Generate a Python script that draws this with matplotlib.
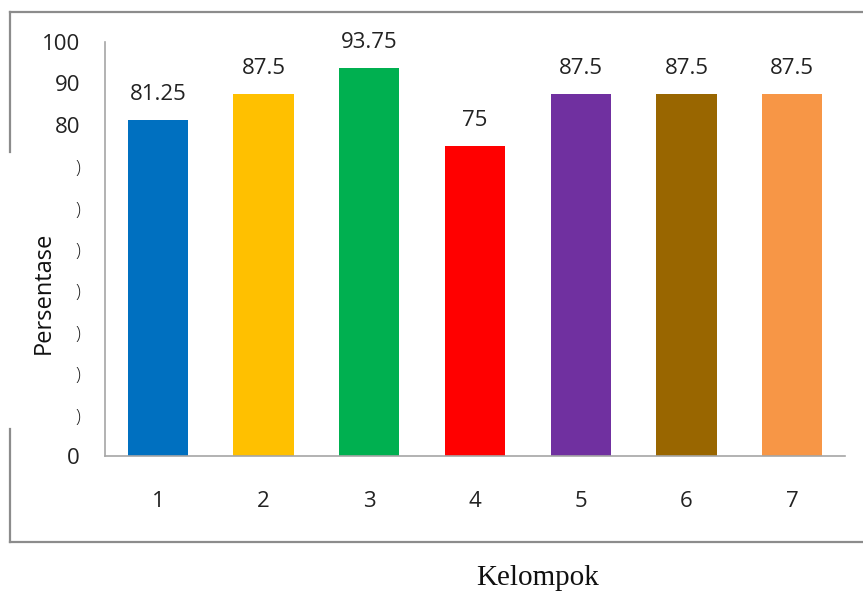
import matplotlib.pyplot as plt
from matplotlib.lines import Line2D

plt.rcParams["font.family"] = ["Open Sans", "DejaVu Sans"]

# data
kelompok = ["1", "2", "3", "4", "5", "6", "7"]
persentase = [81.25, 87.5, 93.75, 75, 87.5, 87.5, 87.5]
warna = ["#0070C0", "#FFC000", "#00B050", "#FF0000", "#7030A0", "#996600", "#F79646"]
y_ticks = [0, 10, 20, 30, 40, 50, 60, 70, 80, 90, 100]
y_labels = ["0", ")", ")", ")", ")", ")", ")", ")", "80", "90", "100"]

W, H = 863, 593
fig = plt.figure(figsize=(W / 100, H / 100), dpi=100)
ax = fig.add_axes([105 / W, 1 - 456 / H, (845 - 105) / W, (456 - 42) / H])

x = range(1, len(kelompok) + 1)
ax.bar(x, persentase, width=0.57, color=warna)
for xi, v in zip(x, persentase):
    ax.text(xi, v + 3.6, f"{v:g}", ha="center", va="bottom", fontsize=16, color="#222222")

ax.set_xlim(0.5, 7.5)
ax.set_ylim(0, 100)
ax.set_xticks(list(x))
ax.set_xticklabels(kelompok, fontsize=16, color="#222222")
ax.set_yticks(y_ticks)
ax.set_yticklabels(y_labels, fontsize=16, color="#222222")
for lbl in ax.get_yticklabels():
    if lbl.get_text() == ")":
        lbl.set_fontsize(13)
        lbl.set_fontweight("light")
ax.tick_params(axis="x", length=0, pad=25)
ax.tick_params(axis="y", length=0, pad=18)

for s in ["top", "right"]:
    ax.spines[s].set_visible(False)
for s in ["left", "bottom"]:
    ax.spines[s].set_color("#a6a6a6")
    ax.spines[s].set_linewidth(1.2)

# judul sumbu
fig.text(44 / W, 1 - 293 / H, "Persentase", rotation=90, ha="center", va="center",
         fontsize=17, color="#111111")
fig.text(538 / W, 1 - 578 / H, "Kelompok", ha="center", va="center",
         fontsize=21, family="Liberation Serif", color="#111111")

# bingkai luar
def garis(x0, y0, x1, y1):
    fig.add_artist(Line2D([x0 / W, x1 / W], [1 - y0 / H, 1 - y1 / H],
                          color="#8c8c8c", linewidth=1.6))

garis(10, 12, W, 12)
garis(10, 12, 10, 152)
garis(10, 429, 10, 542)
garis(10, 542, W, 542)

fig.savefig("out.png", dpi=100)
